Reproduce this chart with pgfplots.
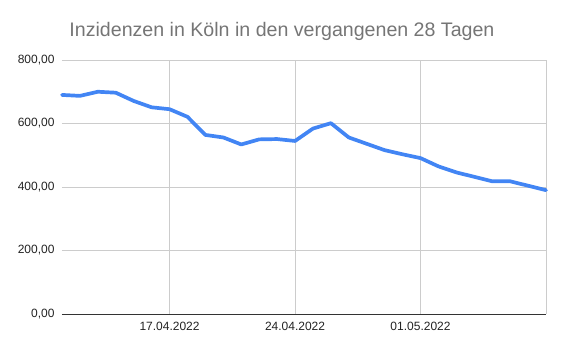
\documentclass[border=0pt]{standalone}
\usepackage{fontspec}
\setmainfont{Liberation Sans}
\usepackage{pgfplots}
\pgfplotsset{compat=1.18}
\definecolor{lineblue}{HTML}{4285F4}
\definecolor{gridgray}{HTML}{CCCCCC}
\definecolor{titlegray}{HTML}{757575}
\definecolor{labelgray}{HTML}{222222}
\definecolor{axisdark}{HTML}{333333}
\begin{document}
\begin{tikzpicture}
\useasboundingbox (-62pt,-38pt) rectangle (502pt,314pt);
\begin{axis}[
  at={(0,0)}, anchor=south west,
  scale only axis, width=484pt, height=254pt,
  xmin=0, xmax=27, ymin=0, ymax=800,
  axis line style={draw=none},
  xtick={6,13,20,27},
  xticklabels={17.04.2022,24.04.2022,01.05.2022,{}},
  ytick={0,200,400,600,800},
  yticklabels={{0,00},{200,00},{400,00},{600,00},{800,00}},
  major tick length=0pt,
  grid=major,
  major grid style={draw=gridgray, line width=0.8pt},
  tick label style={font=\fontsize{12}{14}\selectfont, text=labelgray},
  xticklabel style={anchor=north, yshift=-5pt},
  yticklabel style={anchor=east, xshift=-4pt},
  every axis title shift=0pt,
  title={Inzidenzen in Köln in den vergangenen 28 Tagen},
  title style={at={(0.4545,1)}, anchor=base, yshift=23.3pt, font=\fontsize{19.6}{22}\selectfont, text=titlegray},
  clip=false,
]
\draw[axisdark, line width=0.8pt] (axis cs:0,0) -- (axis cs:27,0);
\addplot[color=lineblue, line width=3.7pt, line join=round, line cap=round] coordinates {
(0,690) (1,687) (2,700) (3,697) (4,671) (5,651) (6,645) (7,621)
(8,564) (9,556) (10,534) (11,550) (12,551) (13,545) (14,584) (15,601)
(16,556) (17,536) (18,516) (19,503) (20,491) (21,465) (22,446) (23,432)
(24,418) (25,418) (26,404) (27,390)
};
\end{axis}
\end{tikzpicture}
\end{document}
